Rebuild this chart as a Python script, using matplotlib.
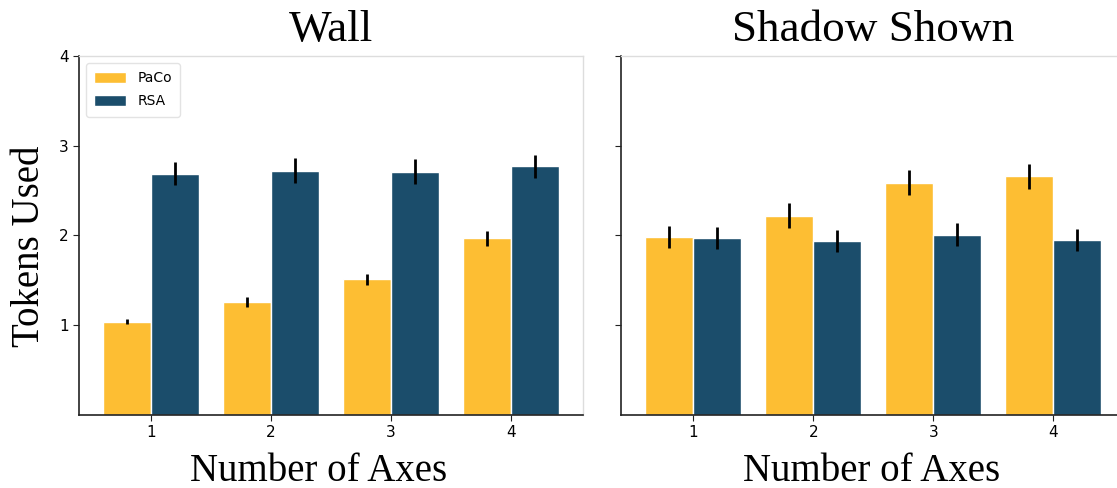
import numpy as np
import matplotlib
matplotlib.use("Agg")
import matplotlib.pyplot as plt

# ──────────────────────────────────────────────────────────────
# DATA
# ──────────────────────────────────────────────────────────────
n_axes = [1, 2, 3, 4]
panel_titles = ["Wall", "Shadow Shown"]

wall_paco = [1.04, 1.26, 1.51, 1.97]
wall_paco_err = [0.03, 0.06, 0.065, 0.085]
wall_rsa = [2.69, 2.72, 2.71, 2.77]
wall_rsa_err = [0.13, 0.14, 0.14, 0.13]

shadow_paco = [1.98, 2.22, 2.59, 2.66]
shadow_paco_err = [0.125, 0.14, 0.135, 0.14]
shadow_rsa = [1.97, 1.94, 2.01, 1.95]
shadow_rsa_err = [0.125, 0.12, 0.125, 0.125]

PACO_COLOR = "#FDBE33"
RSA_COLOR = "#1B4D6B"
BAR_W = 0.4
SERIF = ["Liberation Serif", "DejaVu Serif"]


def draw_panel(ax, title, paco, paco_err, rsa, rsa_err):
    x = np.array(n_axes, dtype=float)
    ax.bar(x - BAR_W / 2, paco, BAR_W, color=PACO_COLOR, edgecolor="white",
           linewidth=1, label="PaCo")
    ax.bar(x + BAR_W / 2, rsa, BAR_W, color=RSA_COLOR, edgecolor="white",
           linewidth=1, label="RSA")
    ax.errorbar(x - BAR_W / 2, paco, yerr=paco_err, fmt="none", ecolor="black",
                elinewidth=2, capsize=0)
    ax.errorbar(x + BAR_W / 2, rsa, yerr=rsa_err, fmt="none", ecolor="black",
                elinewidth=2, capsize=0)

    ax.set_xlim(0.4, 4.6)
    ax.set_ylim(0, 4)
    ax.set_xticks(n_axes)
    ax.set_yticks([1, 2, 3, 4])
    ax.tick_params(labelsize=11, color="#222222", length=4)

    for side in ("left", "bottom"):
        ax.spines[side].set_color("#222222")
        ax.spines[side].set_linewidth(1.2)
    for side in ("top", "right"):
        ax.spines[side].set_color("#dddddd")
        ax.spines[side].set_linewidth(1.0)

    ax.set_title(title, fontsize=32.5, family=SERIF, pad=11)
    ax.set_xlabel("Number of Axes", fontsize=28, family=SERIF, labelpad=9)


fig = plt.figure(figsize=(11.17, 4.88), dpi=100)
ax1 = fig.add_axes([0.0707, 0.1496, 0.4512, 0.7357])
ax2 = fig.add_axes([0.5564, 0.1496, 0.4512, 0.7357])

draw_panel(ax1, panel_titles[0], wall_paco, wall_paco_err, wall_rsa, wall_rsa_err)
draw_panel(ax2, panel_titles[1], shadow_paco, shadow_paco_err, shadow_rsa, shadow_rsa_err)

ax1.set_ylabel("Tokens Used", fontsize=28, family=SERIF, labelpad=8)
ax2.set_yticklabels([])

# labels sit a little off-centre in the original
ax1.xaxis.label.set_x(0.476)
ax2.xaxis.label.set_x(0.496)
ax1.yaxis.label.set_y(0.47)

leg = ax1.legend(loc="upper left", fontsize=10, frameon=True, fancybox=True,
                 handlelength=2.3, handleheight=0.8, borderpad=0.6,
                 labelspacing=0.65)
leg.get_frame().set_edgecolor("#dddddd")

fig.savefig("out.png", dpi=100)
